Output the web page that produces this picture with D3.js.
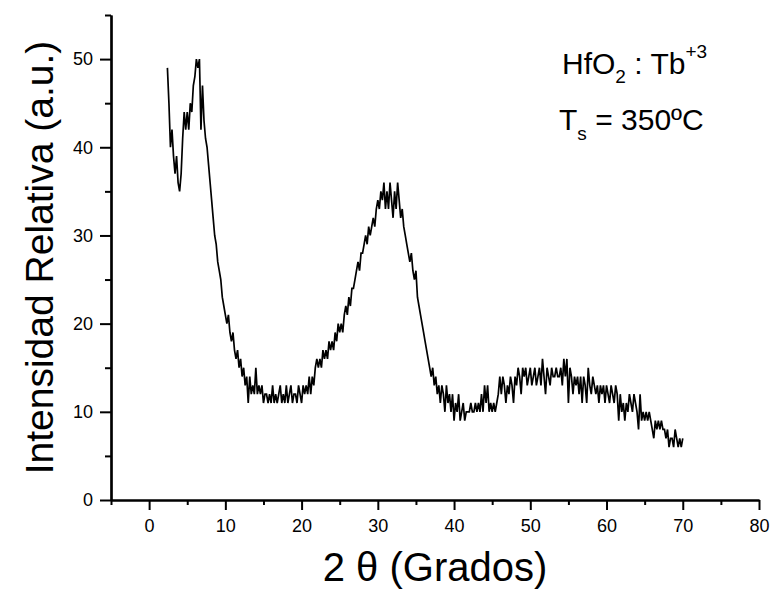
<!DOCTYPE html>
<html>
<head>
<meta charset="utf-8">
<script src="https://cdn.jsdelivr.net/npm/d3@7/dist/d3.min.js"></script>
<style>
  html, body { margin: 0; padding: 0; background: #fff; }
  text { font-family: "Liberation Sans", Arial, sans-serif; fill: #000; }
</style>
</head>
<body>
<svg id="chart" width="773" height="592"></svg>
<script>
// ---- data ----
const startAngle = 2.4;   // first 2θ sample (degrees)
const angleStep = 0.2;    // sampling step (degrees)
const intensity = [
  49,45,40,42,39,37,39,36,35,37,
  41,44,42,44,42,45,44,47,48,50,
  49,50,42,47,43,41,40,38,36,34,
  32,30,29,27,26,25,23,22,21,20,
  21,19,18,19,17,16,17,15,16,14,
  15,13,14,11,14,12,13,12,15,12,
  13,12,13,11,12,12,11,12,11,13,
  11,12,11,12,13,11,12,11,13,11,
  12,13,11,12,12,11,13,12,11,13,
  12,13,12,14,12,14,13,15,16,15,
  16,15,17,16,17,16,18,17,18,17,
  19,18,20,19,20,19,21,22,21,23,
  22,24,24,25,26,27,26,28,28,29,
  30,29,31,30,31,32,31,33,34,33,
  35,34,36,33,35,33,36,34,32,35,
  33,36,34,32,33,31,30,29,28,27,
  28,26,25,26,23,22,21,20,19,18,
  17,16,15,14,15,13,14,12,13,11,
  13,12,10,13,11,12,10,12,9,11,
  10,12,9,10,11,9,10,10,10,11,
  10,10,11,10,11,10,12,10,13,11,
  13,10,11,10,11,10,11,12,14,12,
  14,13,11,13,12,14,13,11,14,13,
  15,14,12,15,14,15,13,14,15,13,
  14,15,13,14,15,13,16,14,12,15,
  14,13,15,14,14,15,14,14,15,13,
  16,14,16,11,15,14,12,14,13,14,
  12,14,11,14,13,11,15,13,12,14,
  13,12,13,11,13,12,13,11,13,12,
  11,13,12,11,13,12,9,12,10,11,
  9,11,10,12,11,10,12,11,10,8,
  12,9,10,9,10,9,10,9,8,7,
  9,8,9,8,9,8,8,7,8,6,
  7,7,6,8,7,6,7,6,7
];
const xMajorTicks = [0, 10, 20, 30, 40, 50, 60, 70, 80];
const xMinorTicks = [-5, 5, 15, 25, 35, 45, 55, 65, 75];
const yMajorTicks = [0, 10, 20, 30, 40, 50];
const yMinorTicks = [5, 15, 25, 35, 45, 55];
const xDomain = [-5, 80];
const yDomain = [0, 55];
const xTitle = "2 θ (Grados)";
const yTitle = "Intensidad Relativa (a.u.)";

// ---- layout ----
const svg = d3.select("#chart");
const plotLeft = 111, plotRight = 759, plotTop = 15, plotBottom = 500;

const x = d3.scaleLinear().domain(xDomain).range([plotLeft, plotRight]);
const y = d3.scaleLinear().domain(yDomain).range([plotBottom, plotTop]);

const points = intensity.map((v, i) => [startAngle + i * angleStep, v]);

svg.append("rect").attr("width", 773).attr("height", 592).attr("fill", "#fff");

// data trace
svg.append("path")
  .datum(points)
  .attr("fill", "none")
  .attr("stroke", "#000")
  .attr("stroke-width", 1.7)
  .attr("stroke-linejoin", "miter")
  .attr("d", d3.line().x(d => x(d[0])).y(d => y(d[1])));

// x axis
const gx = svg.append("g").attr("transform", `translate(0,${plotBottom})`);
gx.append("g").call(d3.axisBottom(x).tickValues(xMinorTicks).tickSize(5).tickSizeOuter(0).tickFormat(""));
gx.append("g").call(d3.axisBottom(x).tickValues(xMajorTicks).tickSize(10).tickSizeOuter(0).tickPadding(9).tickFormat(d3.format("d")));

// y axis
const gy = svg.append("g").attr("transform", `translate(${plotLeft},0)`);
gy.append("g").call(d3.axisLeft(y).tickValues(yMinorTicks).tickSize(6).tickSizeOuter(0).tickFormat(""));
gy.append("g").call(d3.axisLeft(y).tickValues(yMajorTicks).tickSize(11).tickSizeOuter(0).tickPadding(7).tickFormat(d3.format("d")));

svg.selectAll(".domain").attr("stroke", "#000").attr("stroke-width", 2.2);
svg.selectAll(".tick line").attr("stroke", "#000").attr("stroke-width", 2);
svg.selectAll(".tick text").style("font-size", "18px").style("font-family", '"Liberation Sans", Arial, sans-serif').attr("fill", "#000");

// axis titles
svg.append("text")
  .attr("x", (plotLeft + plotRight) / 2).attr("y", 581)
  .attr("text-anchor", "middle")
  .style("font-size", "40px")
  .text(xTitle);

svg.append("text")
  .attr("transform", `translate(53,${(plotTop + plotBottom) / 2}) rotate(-90)`)
  .attr("text-anchor", "middle")
  .style("font-size", "39px")
  .text(yTitle);

// annotation
const a1 = svg.append("text").attr("x", 562).attr("y", 74).style("font-size", "30px");
a1.append("tspan").text("HfO");
a1.append("tspan").attr("dy", 9).style("font-size", "19px").text("2");
a1.append("tspan").attr("dy", -9).text(" : Tb");
a1.append("tspan").attr("dy", -16).style("font-size", "19px").text("+3");

const a2 = svg.append("text").attr("x", 559).attr("y", 130).style("font-size", "30px");
a2.append("tspan").text("T");
a2.append("tspan").attr("dy", 10).style("font-size", "19px").text("s");
a2.append("tspan").attr("dy", -10).text(" = 350ºC");
</script>
</body>
</html>
